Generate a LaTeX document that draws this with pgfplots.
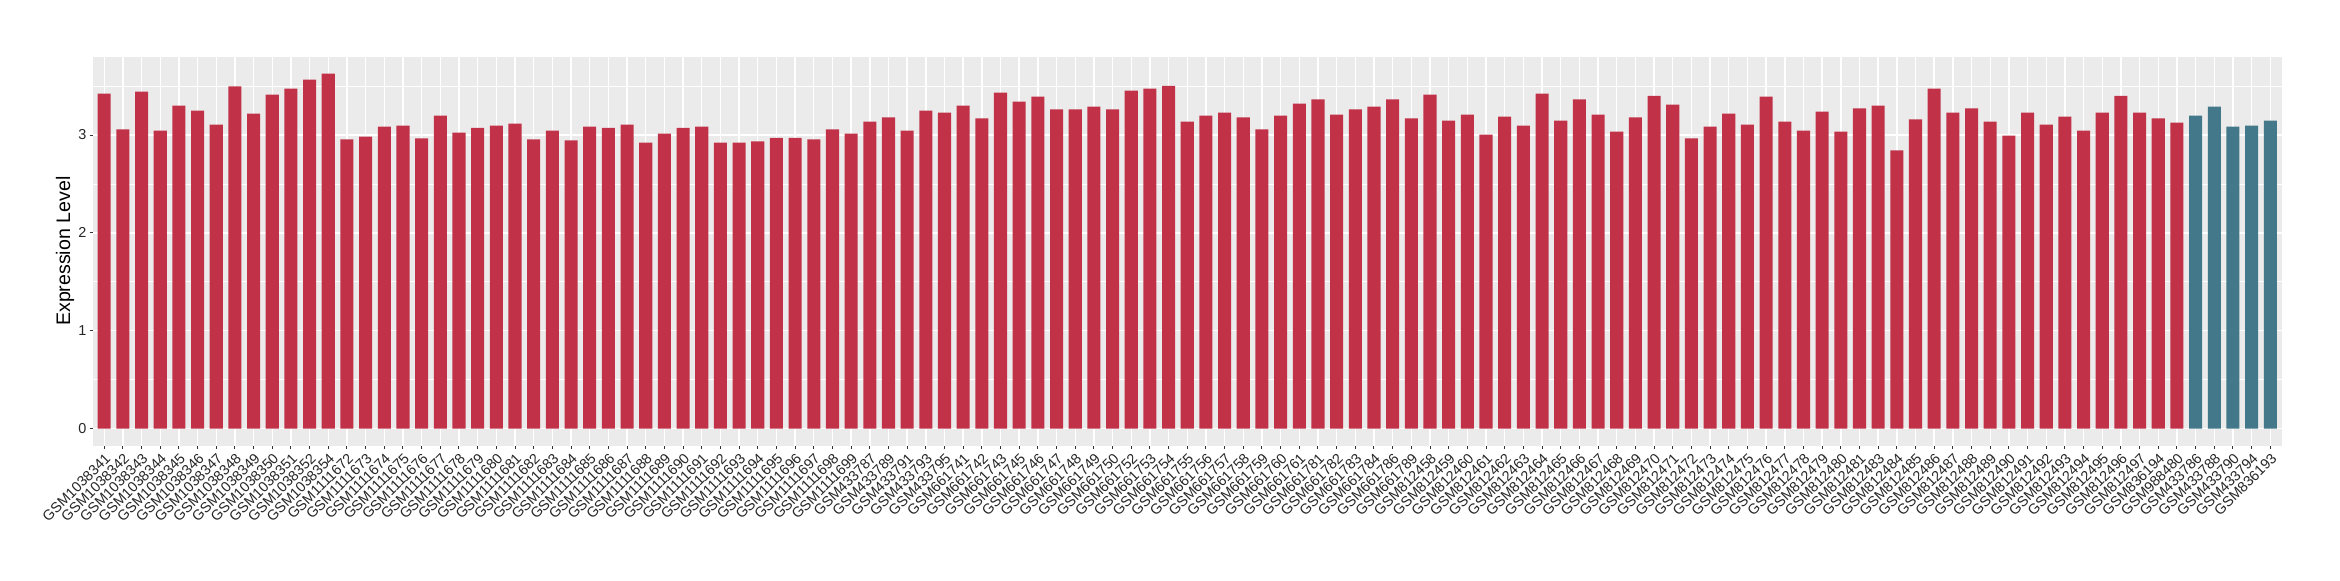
\documentclass[border=0pt]{standalone}
\usepackage{pgfplots}
\pgfplotsset{compat=1.18}
\usepackage{pgfplotstable}
\usepackage{fontspec}
\setmainfont{Liberation Sans}
\definecolor{barred}{RGB}{193,50,73}
\definecolor{barteal}{RGB}{67,120,138}
\definecolor{panelbg}{RGB}{235,235,235}
\pgfplotstableread{
x y
0 3.422
1 3.057
2 3.444
3 3.046
4 3.299
5 3.250
6 3.106
7 3.496
8 3.218
9 3.412
10 3.475
11 3.567
12 3.626
13 2.955
14 2.983
15 3.085
16 3.095
17 2.965
18 3.197
19 3.025
20 3.074
21 3.095
22 3.116
23 2.955
24 3.046
25 2.944
26 3.085
27 3.074
28 3.106
29 2.923
30 3.014
31 3.074
32 3.085
33 2.923
34 2.923
35 2.934
36 2.972
37 2.972
38 2.955
39 3.057
40 3.014
41 3.138
42 3.180
43 3.046
44 3.250
45 3.229
46 3.299
47 3.169
48 3.433
49 3.342
50 3.391
51 3.261
52 3.261
53 3.289
54 3.261
55 3.454
56 3.475
57 3.503
58 3.138
59 3.197
60 3.229
61 3.180
62 3.057
63 3.197
64 3.320
65 3.363
66 3.208
67 3.261
68 3.289
69 3.363
70 3.169
71 3.412
72 3.148
73 3.208
74 3.004
75 3.187
76 3.095
77 3.422
78 3.148
79 3.363
80 3.208
81 3.035
82 3.180
83 3.401
84 3.310
85 2.965
86 3.085
87 3.218
88 3.106
89 3.391
90 3.138
91 3.046
92 3.240
93 3.035
94 3.271
95 3.299
96 2.842
97 3.159
98 3.475
99 3.229
100 3.271
101 3.138
102 2.993
103 3.229
104 3.106
105 3.187
106 3.046
107 3.229
108 3.401
109 3.229
110 3.169
111 3.127
}\redtab
\pgfplotstableread{
x y
112 3.197
113 3.289
114 3.085
115 3.095
116 3.148
}\tealtab
\begin{document}
\begin{tikzpicture}
\useasboundingbox (0,0) rectangle (1170pt,290pt);
\begin{axis}[
  at={(46.5pt,67.15pt)}, anchor=south west,
  scale only axis, width=1094.25pt, height=194.5pt,
  xmin=-0.6, xmax=116.6, ymin=-0.174, ymax=3.80,
  ybar, bar width=0.7, bar shift=0pt,
  axis background/.style={fill=panelbg},
  axis line style={draw=none},
  xtick={0,...,116},
  xticklabels={GSM1038341,GSM1038342,GSM1038343,GSM1038344,GSM1038345,GSM1038346,GSM1038347,GSM1038348,GSM1038349,GSM1038350,GSM1038351,GSM1038352,GSM1038354,GSM1111672,GSM1111673,GSM1111674,GSM1111675,GSM1111676,GSM1111677,GSM1111678,GSM1111679,GSM1111680,GSM1111681,GSM1111682,GSM1111683,GSM1111684,GSM1111685,GSM1111686,GSM1111687,GSM1111688,GSM1111689,GSM1111690,GSM1111691,GSM1111692,GSM1111693,GSM1111694,GSM1111695,GSM1111696,GSM1111697,GSM1111698,GSM1111699,GSM433787,GSM433789,GSM433791,GSM433793,GSM433795,GSM661741,GSM661742,GSM661743,GSM661745,GSM661746,GSM661747,GSM661748,GSM661749,GSM661750,GSM661752,GSM661753,GSM661754,GSM661755,GSM661756,GSM661757,GSM661758,GSM661759,GSM661760,GSM661761,GSM661781,GSM661782,GSM661783,GSM661784,GSM661786,GSM661789,GSM812458,GSM812459,GSM812460,GSM812461,GSM812462,GSM812463,GSM812464,GSM812465,GSM812466,GSM812467,GSM812468,GSM812469,GSM812470,GSM812471,GSM812472,GSM812473,GSM812474,GSM812475,GSM812476,GSM812477,GSM812478,GSM812479,GSM812480,GSM812481,GSM812483,GSM812484,GSM812485,GSM812486,GSM812487,GSM812488,GSM812489,GSM812490,GSM812491,GSM812492,GSM812493,GSM812494,GSM812495,GSM812496,GSM812497,GSM836194,GSM988480,GSM433786,GSM433788,GSM433790,GSM433794,GSM836193},
  ytick={0,1,2,3},
  minor ytick={0.5,1.5,2.5,3.5},
  tick pos=left, tick align=outside,
  major tick length=1.6pt, minor tick length=0pt,
  tick style={color=black!80, line width=0.5pt},
  grid=both,
  major grid style={white, line width=0.7pt},
  minor grid style={white, line width=0.35pt},
  /pgf/number format/assume math mode=true,
  ticklabel style={font=\fontsize{7.2}{8}\selectfont, text=black!85},
  xticklabel style={rotate=45, anchor=north east, inner sep=1pt},
  yticklabel style={inner sep=1.5pt},
  ylabel={Expression Level},
  ylabel style={at={(axis description cs:-0.0128,0.5)}, anchor=center, font=\fontsize{9.8}{11}\selectfont},
]
\addplot[fill=barred, draw=none] table[x=x,y=y] {\redtab};
\addplot[fill=barteal, draw=none] table[x=x,y=y] {\tealtab};
\end{axis}
\end{tikzpicture}
\end{document}
